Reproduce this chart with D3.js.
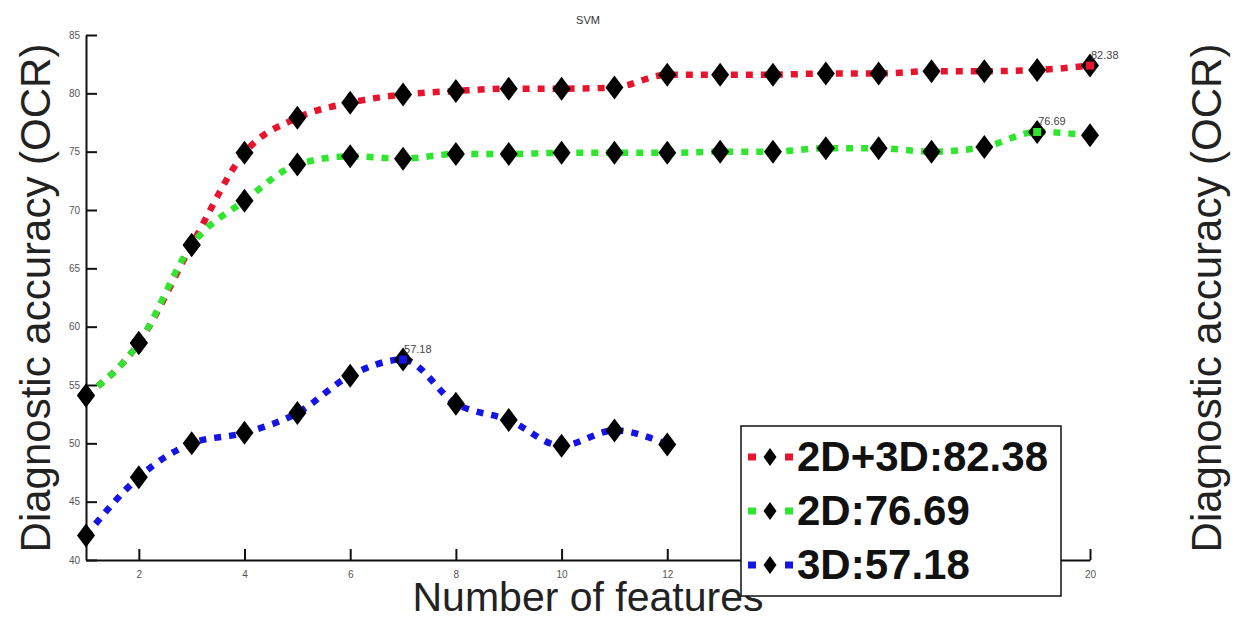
<!DOCTYPE html>
<html>

<head>
  <meta charset="utf-8">
  <script src="https://d3js.org/d3.v7.min.js"></script>
  <style>
    body { margin: 0; background: #fff; }
    text { font-family: "Liberation Sans", Arial, sans-serif; }
  </style>
</head>

<body>
  <div id="my_dataviz"></div>
  <script>
    // number of features 1..20
    var features = d3.range(1, 21);
    var acc2d3d = [54.1, 58.6, 67.0, 74.9, 77.9, 79.2, 79.9, 80.2, 80.4, 80.4, 80.5, 81.6, 81.6, 81.6, 81.7, 81.7, 81.9, 81.9, 82.0, 82.38];
    var acc2d = [54.1, 58.6, 67.0, 70.8, 73.9, 74.6, 74.4, 74.8, 74.8, 74.9, 74.9, 74.9, 75.0, 75.0, 75.3, 75.3, 75.0, 75.4, 76.69, 76.4];
    var acc3d = [42.1, 47.1, 50.0, 50.9, 52.6, 55.8, 57.18, 53.4, 52.0, 49.8, 51.1, 49.9];
    var seriesNames = ["2D+3D:82.38", "2D:76.69", "3D:57.18"];
    var bestLabels = ["82.38", "76.69", "57.18"];
    var xTicks = [2, 4, 6, 8, 10, 12, 14, 16, 18, 20];
    var yTicks = [40, 45, 50, 55, 60, 65, 70, 75, 80, 85];

    var width = 1236, height = 621;
    var colors = ["#e8142e", "#2ee62e", "#1414e6"];
    var legendBox = { x: 741, y: 426, w: 320, h: 170 };

    var svg = d3.select("#my_dataviz")
      .append("svg")
      .attr("width", width)
      .attr("height", height);

    var x = d3.scaleLinear().domain([1, 20]).range([86, 1090]);
    var y = d3.scaleLinear().domain([40, 85]).range([560, 35]);

    // axes (only left and bottom, ticks inward)
    var xAxis = svg.append("g")
      .attr("transform", "translate(0,560)")
      .call(d3.axisTop(x).tickValues(xTicks).tickSize(11).tickSizeOuter(0).tickFormat(d3.format("d")));
    xAxis.selectAll("text").attr("y", 11).attr("dy", "0.71em");
    // labels sitting under the legend box are hidden in the original
    xAxis.selectAll(".tick text")
      .filter(function (d) { return x(d) > legendBox.x && x(d) < legendBox.x + legendBox.w; })
      .remove();
    var yAxis = svg.append("g")
      .attr("transform", "translate(86,0)")
      .call(d3.axisRight(y).tickValues(yTicks).tickSize(11).tickSizeOuter(0));
    yAxis.selectAll("text").attr("x", -6).style("text-anchor", "end");
    svg.selectAll(".domain, .tick line").attr("stroke", "#111").attr("stroke-width", 2);
    svg.selectAll(".tick text")
      .style("font-size", "10px")
      .style("font-family", "Liberation Sans, Arial, sans-serif")
      .attr("fill", "#555");

    // title
    svg.append("text")
      .attr("x", 588).attr("y", 24)
      .attr("text-anchor", "middle")
      .style("font-size", "11px")
      .attr("fill", "#333")
      .text("SVM");

    // axis labels
    svg.append("text")
      .attr("x", 588).attr("y", 611)
      .attr("text-anchor", "middle")
      .style("font-size", "41px")
      .attr("fill", "#222")
      .text("Number of features");

    [50, 1221].forEach(function (bx) {
      svg.append("text")
        .attr("transform", "translate(" + bx + ",298)rotate(-90)")
        .attr("text-anchor", "middle")
        .style("font-size", "42px")
        .attr("fill", "#222")
        .text("Diagnostic accuracy (OCR)");
    });

    var allSeries = [acc2d3d, acc2d, acc3d];
    var line = d3.line()
      .x(function (d, i) { return x(features[i]); })
      .y(function (d) { return y(d); })
      .curve(d3.curveMonotoneX);

    var diamond = function (cx, cy, w, h) {
      return "M" + cx + "," + (cy - h) + "L" + (cx + w) + "," + cy + "L" + cx + "," + (cy + h) + "L" + (cx - w) + "," + cy + "Z";
    };

    allSeries.forEach(function (data, s) {
      svg.append("path")
        .datum(data)
        .attr("d", line)
        .attr("fill", "none")
        .attr("stroke", colors[s])
        .attr("stroke-width", 6.5)
        .attr("stroke-dasharray", "7,8");
    });

    allSeries.forEach(function (data, s) {
      svg.selectAll("mydiamond" + s)
        .data(data)
        .enter()
        .append("path")
        .attr("d", function (d, i) { return diamond(x(features[i]), y(d), 9, 12); })
        .attr("fill", "#000");

      // best value marker and label
      var best = d3.maxIndex(data);
      var bx = x(features[best]), by = y(data[best]);
      svg.append("rect")
        .attr("x", bx - 4.5).attr("y", by - 4.5)
        .attr("width", 9).attr("height", 9)
        .attr("fill", colors[s])
        .attr("stroke", "#000").attr("stroke-width", 1);
      svg.append("text")
        .attr("x", bx + 1).attr("y", by - 7)
        .style("font-size", "11px")
        .attr("fill", "#444")
        .text(bestLabels[s]);
    });

    // legend
    var legend = svg.append("g");
    legend.append("rect")
      .attr("x", legendBox.x).attr("y", legendBox.y)
      .attr("width", legendBox.w).attr("height", legendBox.h)
      .attr("fill", "#fff")
      .attr("stroke", "#111").attr("stroke-width", 1.5);
    seriesNames.forEach(function (name, s) {
      var ly = 457 + s * 54;
      [748, 785].forEach(function (sx) {
        legend.append("rect")
          .attr("x", sx).attr("y", ly - 3.5)
          .attr("width", 8).attr("height", 7)
          .attr("fill", colors[s]);
      });
      legend.append("path")
        .attr("d", diamond(770, ly, 6.5, 9))
        .attr("fill", "#000");
      legend.append("text")
        .attr("x", 797).attr("y", ly + 14)
        .style("font-size", "42px")
        .style("font-weight", "bold")
        .attr("fill", "#111")
        .text(name);
    });
  </script>
</body>

</html>
